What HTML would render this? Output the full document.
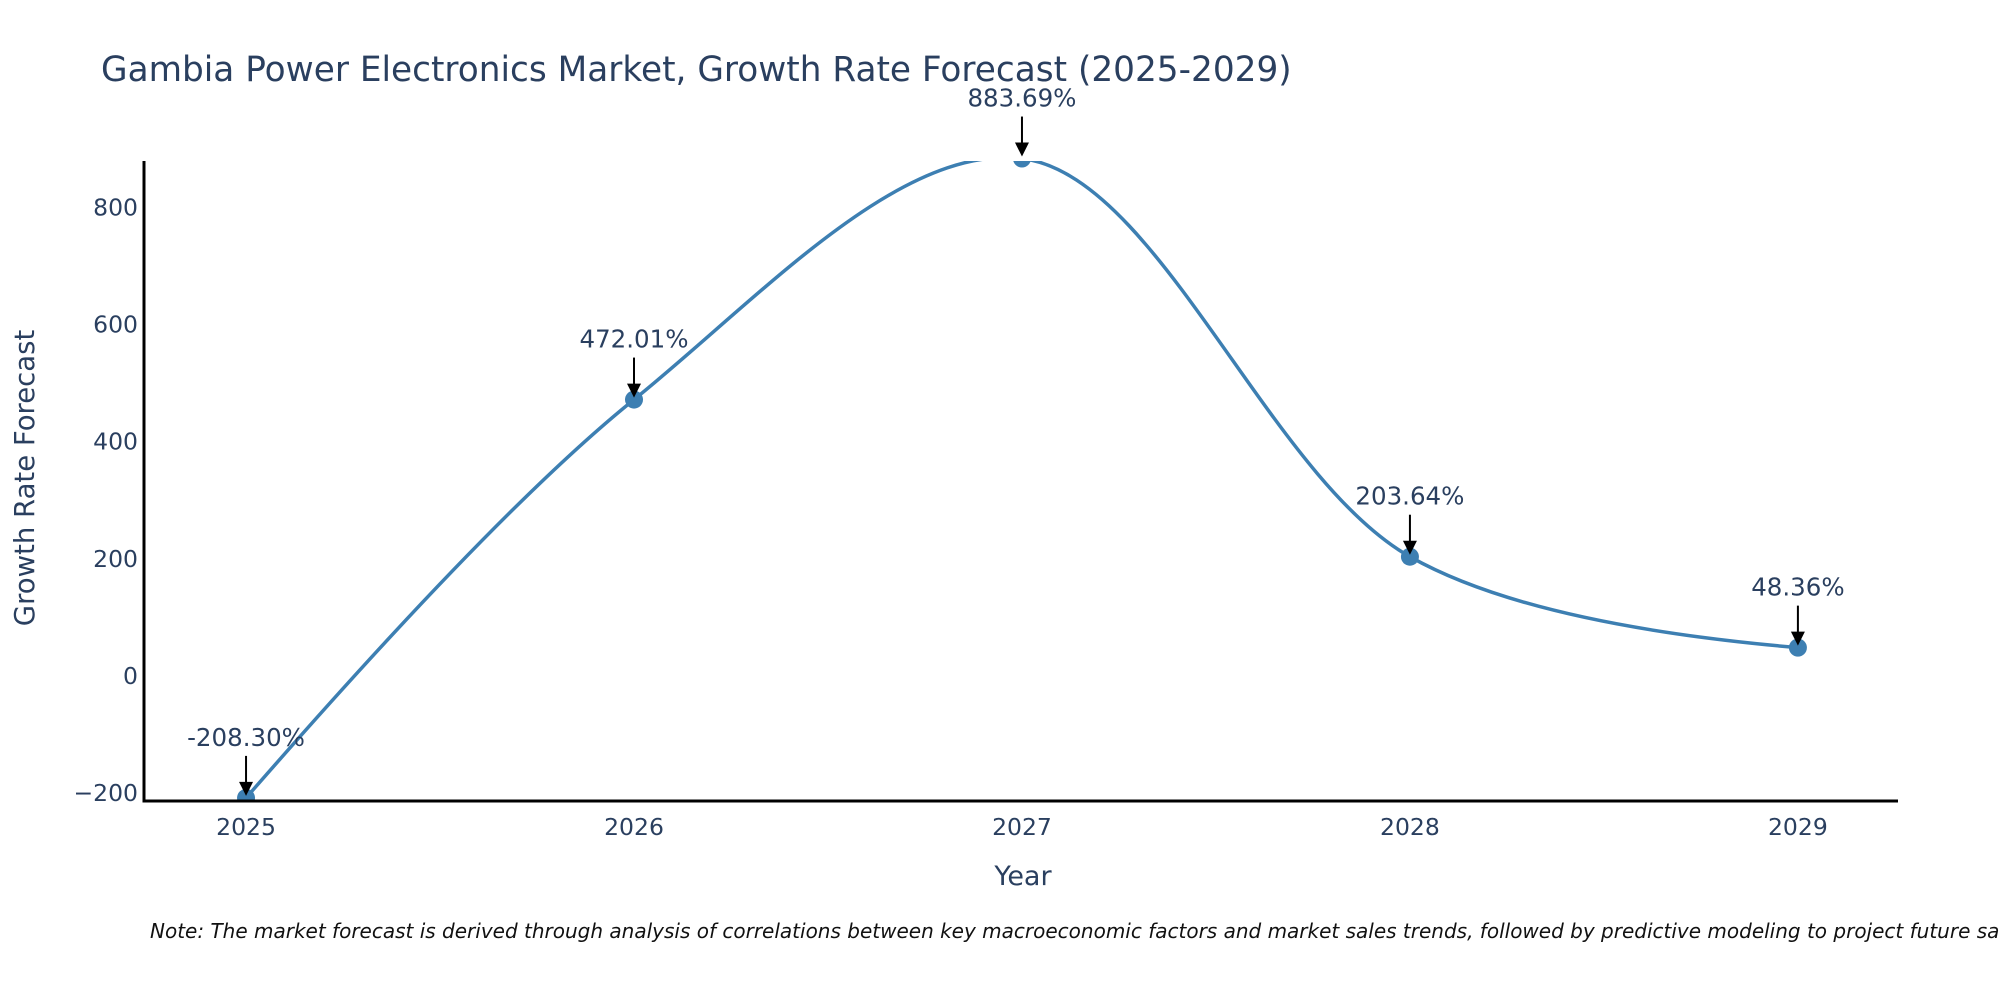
<!DOCTYPE html>
<html><head><meta charset="utf-8"><style>
body{margin:0;background:#fff;font-family:"DejaVu Sans",sans-serif}
svg{display:block}
</style></head><body>
<svg id="c" width="2000" height="1000" font-family="DejaVu Sans, sans-serif">
<defs><clipPath id="cp"><rect x="144" y="161" width="1754" height="640"/></clipPath></defs>
<text x="101" y="81" font-size="34.3" fill="#2a3f5f">Gambia Power Electronics Market, Growth Rate Forecast (2025-2029)</text>
<text x="1023" y="885" font-size="27" fill="#2a3f5f" text-anchor="middle">Year</text>
<text transform="translate(34,478) rotate(-90)" font-size="27.5" fill="#2a3f5f" text-anchor="middle">Growth Rate Forecast</text>
<text x="150" y="938" font-size="20" font-style="italic" fill="#111">Note: The market forecast is derived through analysis of correlations between key macroeconomic factors and market sales trends, followed by predictive modeling to project future sales.</text>
<g id="g"></g>
</svg>
<script>
const years=[2025,2026,2027,2028,2029];
const values=[-208.30,472.01,883.69,203.64,48.36];
const labels=["-208.30%","472.01%","883.69%","203.64%","48.36%"];
const yTicks=[-200,0,200,400,600,800];
const yTickLabels=["\u2212200","0","200","400","600","800"];
const NS="http://www.w3.org/2000/svg";
const g=document.getElementById('g');
const X0=144,X1=1898,Y0=801,Y1=161;
const xmin=2024.737,xmax=2029.258,ymin=-213.6,ymax=879.5;
const xs=v=>X0+(v-xmin)/(xmax-xmin)*(X1-X0);
const ys=v=>Y0-(v-ymin)/(ymax-ymin)*(Y0-Y1);
function el(t,a,p){const e=document.createElementNS(NS,t);for(const k in a)e.setAttribute(k,a[k]);(p||g).appendChild(e);return e;}
yTicks.forEach((t,i)=>{const e=el('text',{x:X0-6,y:ys(t)+8,'font-size':23.5,fill:'#2a3f5f','text-anchor':'end'});e.textContent=yTickLabels[i];

});
years.forEach(y=>{const e=el('text',{x:xs(y),y:835,'font-size':23.5,fill:'#2a3f5f','text-anchor':'middle'});e.textContent=y;

});
const P=years.map((y,i)=>[xs(y),ys(values[i])]);
function tang(a,b,c){const d1x=a[0]-b[0],d1y=a[1]-b[1],d2x=c[0]-b[0],d2y=c[1]-b[1];
const d1a=Math.pow(d1x*d1x+d1y*d1y,0.25),d2a=Math.pow(d2x*d2x+d2y*d2y,0.25);
const nx=d2a*d2a*d1x-d1a*d1a*d2x,ny=d2a*d2a*d1y-d1a*d1a*d2y;
const den1=3*d2a*(d1a+d2a),den2=3*d1a*(d1a+d2a);
return [[b[0]+nx/den1,b[1]+ny/den1],[b[0]-nx/den2,b[1]-ny/den2]];}
const T=[];for(let i=1;i<P.length-1;i++)T[i]=tang(P[i-1],P[i],P[i+1]);
let d=`M${P[0]}Q${T[1][0]} ${P[1]}`;
for(let i=1;i<P.length-2;i++)d+=`C${T[i][1]} ${T[i+1][0]} ${P[i+1]}`;
d+=`Q${T[P.length-2][1]} ${P[P.length-1]}`;
const cg=el('g',{'clip-path':'url(#cp)'});
const ln=el('path',{d,stroke:'#3d7fb2','stroke-width':3.5,fill:'none'},cg);


P.forEach((p,i)=>{const c=el('circle',{cx:p[0],cy:p[1],r:9,fill:'#3d7fb2'},cg);

});
const ax=el('path',{d:`M${X0},${Y1}V${Y0}H${X1}`,stroke:'#000','stroke-width':3,fill:'none'});


P.forEach((p,i)=>{
const a=el('path',{d:`M${p[0]},${p[1]-42}V${p[1]-14}`,stroke:'#000','stroke-width':2});


const h=el('path',{d:`M${p[0]-7},${p[1]-16}L${p[0]+7},${p[1]-16}L${p[0]},${p[1]-2}Z`,fill:'#000'});


const t=el('text',{x:p[0],y:p[1]-52,'font-size':24.5,fill:'#2a3f5f','text-anchor':'middle'});t.textContent=labels[i];

});
</script>
</body></html>
